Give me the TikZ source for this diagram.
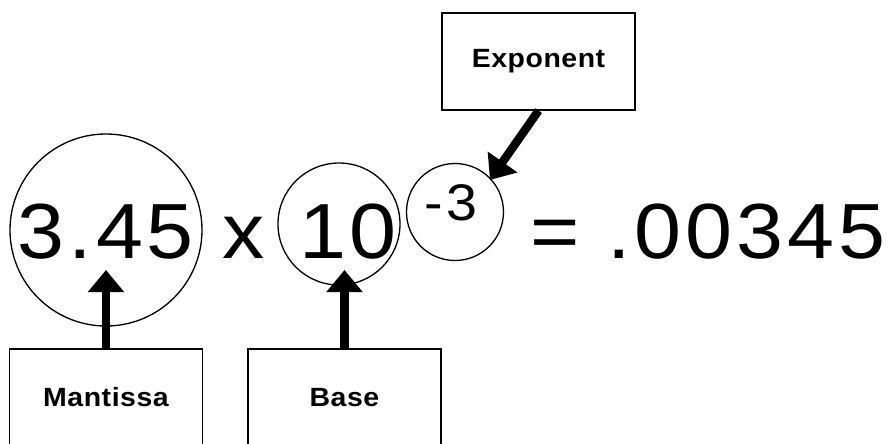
\documentclass[tikz,border=0pt]{standalone}
\usepackage{fontspec}
\setmainfont{Liberation Sans}
\newfontfamily\digitfont[LetterSpace=5, FakeStretch=1.08]{Liberation Sans}
\newfontfamily\tagfont[LetterSpace=2, FakeStretch=1.08]{Liberation Sans Bold}
\usetikzlibrary{arrows.meta}
\tikzset{
  ring/.style={
    circle, draw=black, line width=0.75pt,
    minimum size=#1, inner sep=0pt
  },
  numtext/.style={
    font=\digitfont\fontsize{#1}{#1}\selectfont,
    anchor=base, inner sep=0pt
  },
  numtext/.default=44.5,
  tagbox/.style={
    rectangle, draw=black, line width=0.75pt,
    minimum width=3.86cm, minimum height=1.94cm,
    font=\tagfont\fontsize{15}{18}\selectfont,
    align=center, inner sep=0pt
  },
  pointer/.style={
    -{Triangle[length=0.44cm, width=0.7cm]}, line width=4.8pt
  },
}
\begin{document}
\begin{tikzpicture}[x=0.2mm, y=-0.2mm]
  \useasboundingbox (0,0) rectangle (888,443);
  \clip (0,0) rectangle (888,443);
  % circled parts of the number
  \node[ring=3.84cm] (mring) at (106,230) {};
  \node[ring=2.44cm] (bring) at (339,224) {};
  \node[ring=1.94cm] (ering) at (455,212) {};
  \node[numtext] (mant) at (106,258) {3.45};
  \node[numtext] (times) at (244,258) {x};
  \node[numtext] (base) at (348,258) {10};
  \node[numtext=29.3] (expo) at (451,220) {-3};
  \node[numtext] (result) at (708,258) {= .00345};
  % labels
  \node[tagbox] (mbox) at (106,397.5) {Mantissa};
  \node[tagbox] (bbox) at (344.5,397.5) {Base};
  \node[tagbox] (ebox) at (538.5,61.5) {Exponent};
  \coordinate (mtip) at (106,270);
  \coordinate (btip) at (344.5,270);
  \coordinate (etip) at (490,180);
  \draw[pointer] (mbox.north) -- (mtip);
  \draw[pointer] (bbox.north) -- (btip);
  \draw[pointer] (ebox.south) -- (etip);
\end{tikzpicture}
\end{document}
